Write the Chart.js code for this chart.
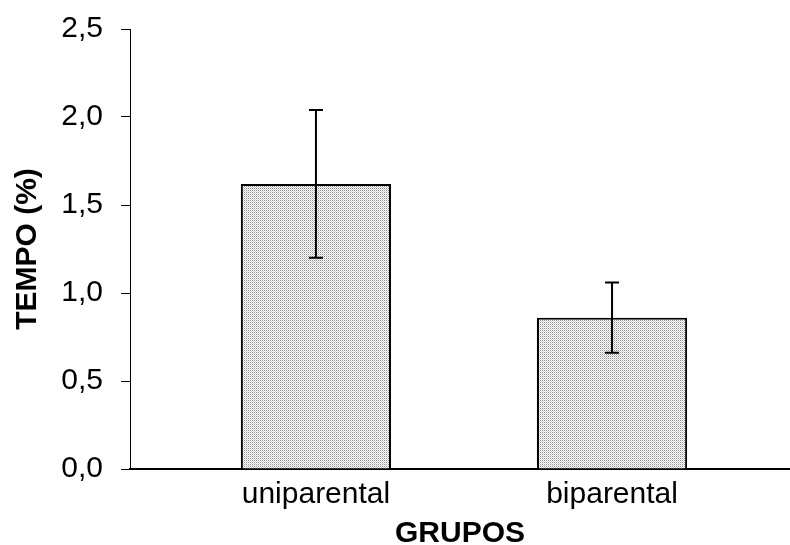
<!DOCTYPE html>
<html>
<head>
<meta charset="utf-8">
<script src="https://cdn.jsdelivr.net/npm/chart.js@4"></script>
<style>
  html, body { margin: 0; padding: 0; background: #fff; }
  #wrap { width: 790px; height: 545px; }
</style>
</head>
<body>
<div id="wrap"><canvas id="grafico" width="790" height="545"></canvas></div>
<script>
// dados
const groups = ["uniparental", "biparental"];
const tempo = [1.62, 0.86];
const erro = [0.42, 0.20];
const yTicks = [0, 0.5, 1.0, 1.5, 2.0, 2.5];

// fine dotted gray fill like the original
function dotPattern() {
  const c = document.createElement("canvas");
  c.width = 2;
  c.height = 2;
  const g = c.getContext("2d");
  g.fillStyle = "#fff";
  g.fillRect(0, 0, 2, 2);
  g.fillStyle = "#8f8f8f";
  g.fillRect(0, 0, 1, 1);
  g.fillStyle = "#d0d0d0";
  g.fillRect(1, 1, 1, 1);
  return g.createPattern(c, "repeat");
}

// error bars on top of the bars
const errorBars = {
  id: "errorBars",
  afterDatasetsDraw(chart) {
    const ctx = chart.ctx;
    const y = chart.scales.y;
    const meta = chart.getDatasetMeta(0);
    ctx.save();
    ctx.strokeStyle = "#000";
    ctx.lineWidth = 2;
    meta.data.forEach((bar, i) => {
      const top = y.getPixelForValue(tempo[i] + erro[i]);
      const bot = y.getPixelForValue(tempo[i] - erro[i]);
      ctx.beginPath();
      ctx.moveTo(bar.x, top);
      ctx.lineTo(bar.x, bot);
      ctx.moveTo(bar.x - 7, top);
      ctx.lineTo(bar.x + 7, top);
      ctx.moveTo(bar.x - 7, bot);
      ctx.lineTo(bar.x + 7, bot);
      ctx.stroke();
    });
    ctx.restore();
  }
};

const ctx = document.getElementById("grafico").getContext("2d");

new Chart(ctx, {
  type: "bar",
  data: {
    datasets: [
      {
        data: tempo.map((v, i) => ({ x: i + 1, y: v })),
        backgroundColor: dotPattern(),
        borderColor: "#000",
        borderWidth: 2,
        barPercentage: 0.507,
        categoryPercentage: 1.0,
      },
    ],
  },
  options: {
    responsive: false,
    animation: false,
    layout: { padding: { top: 29, right: 0, bottom: 0, left: 0 } },
    plugins: { legend: { display: false }, tooltip: { enabled: false } },
    scales: {
      x: {
        type: "linear",
        offset: false,
        min: 0.372,
        max: 2.601,
        afterFit: (s) => { s.height = 76; },
        afterBuildTicks: (s) => {
          s.ticks = groups.map((g, i) => ({ value: i + 1 }));
        },
        ticks: {
          autoSkip: false,
          maxRotation: 0,
          padding: 8,
          color: "#000",
          font: { family: "Liberation Sans, Arial, sans-serif", size: 30 },
          callback: (v, i) => groups[i],
        },
        grid: { offset: false, drawOnChartArea: false, drawTicks: false },
        border: { color: "#000", width: 2 },
        title: {
          display: true,
          text: "GRUPOS",
          color: "#000",
          padding: { top: 0, bottom: -4 },
          font: { family: "Liberation Sans, Arial, sans-serif", size: 30, weight: "bold", lineHeight: 1 },
        },
      },
      y: {
        min: 0,
        max: 2.5,
        afterFit: (s) => {
          s.width = 130;
          s.paddingTop = 0;
          s.paddingBottom = 0;
        },
        afterBuildTicks: (s) => {
          s.ticks = yTicks.map((v) => ({ value: v }));
        },
        ticks: {
          padding: 18,
          color: "#000",
          font: { family: "Liberation Sans, Arial, sans-serif", size: 30 },
          callback: (v) => v.toFixed(1).replace(".", ","),
        },
        grid: { drawOnChartArea: false, tickLength: 9, color: "#000", lineWidth: 1 },
        border: { color: "#000", width: 1 },
        title: {
          display: true,
          text: "TEMPO (%)",
          color: "#000",
          padding: { top: 10, bottom: 0 },
          font: { family: "Liberation Sans, Arial, sans-serif", size: 30, weight: "bold" },
        },
      },
    },
  },
  plugins: [errorBars],
});
</script>
</body>
</html>
